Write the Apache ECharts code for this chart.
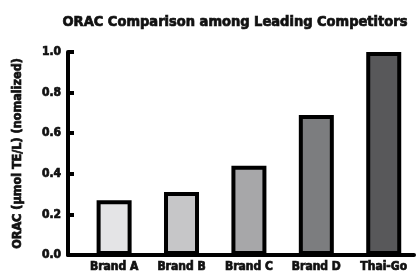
<!DOCTYPE html>
<html>
<head>
<meta charset="utf-8">
<script src="https://cdn.jsdelivr.net/npm/echarts@6/dist/echarts.min.js"></script>
<style>
  html, body { margin: 0; padding: 0; background: #fff; }
  #chart { width: 417px; height: 275px; }
</style>
</head>
<body>
<div id="chart"></div>
<script>
// categories and normalized ORAC values
const brands = ['Brand A', 'Brand B', 'Brand C', 'Brand D', 'Thai-Go'];
const oracValues = [0.27, 0.31, 0.44, 0.69, 1.0];
const barColors = ['#e4e4e6', '#c6c6c8', '#a7a7a9', '#7c7d7f', '#58585a'];

const font = '"Liberation Sans Narrow", "DejaVu Sans Condensed", sans-serif';
// heavy condensed look: bold narrow face plus a thin outline
const heavy = { fontFamily: font, fontWeight: 'bold', color: '#111', textBorderColor: '#111', textBorderWidth: 0.7 };

const chart = echarts.init(document.getElementById('chart'));

const option = {
  animation: false,
  title: {
    text: 'ORAC Comparison among Leading Competitors',
    left: 230,
    top: 10,
    textAlign: 'center',
    textStyle: Object.assign({ fontSize: 14.5 }, heavy)
  },
  grid: { left: 68, right: 0, top: 52, bottom: 20 },
  xAxis: {
    type: 'value',
    min: -0.684,
    max: 4.449,
    splitLine: { show: false },
    axisTick: { show: false },
    axisLine: { show: true, onZero: false, lineStyle: { color: '#000', width: 4 } },
    axisLabel: Object.assign({
      margin: 6,
      fontSize: 12,
      formatter: function (v) {
        return Number.isInteger(v) && brands[v] ? brands[v] : '';
      }
    }, heavy)
  },
  yAxis: {
    type: 'value',
    min: 0,
    max: 1,
    interval: 0.2,
    name: 'ORAC (µmol TE/L) (nomalized)',
    nameLocation: 'middle',
    nameGap: 44,
    nameTextStyle: Object.assign({ fontSize: 12.5 }, heavy),
    splitLine: { show: false },
    axisLine: { show: true, onZero: false, lineStyle: { color: '#000', width: 4 } },
    axisTick: { show: true, inside: true, length: 6, lineStyle: { color: '#000', width: 4 } },
    axisLabel: Object.assign({
      margin: 7,
      fontSize: 12,
      formatter: function (v) { return v.toFixed(1); }
    }, heavy)
  },
  series: [{
    type: 'bar',
    barWidth: 35,
    data: oracValues.map(function (v, i) {
      return {
        value: [i, v],
        itemStyle: { color: barColors[i], borderColor: '#000', borderWidth: 4 }
      };
    })
  }]
};

chart.setOption(option);
</script>
</body>
</html>
